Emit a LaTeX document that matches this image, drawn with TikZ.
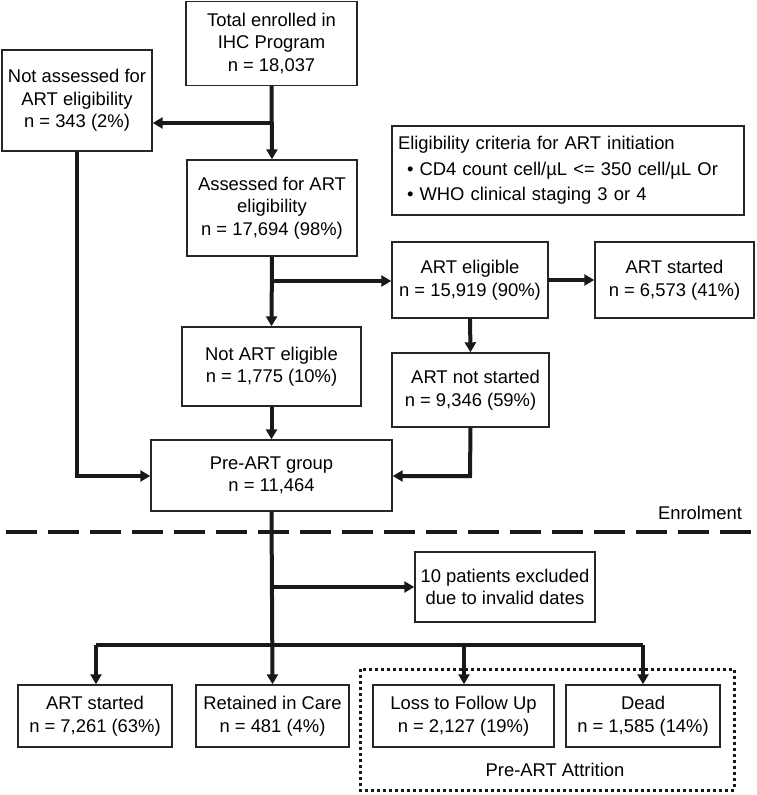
\documentclass[tikz,border=0pt]{standalone}
\usepackage{fontspec}
\setmainfont{Liberation Sans}
\usetikzlibrary{arrows.meta}
\begin{document}
\begin{tikzpicture}[x=1pt,y=-1pt,
  box/.style={draw=black!85,line width=1.4pt,rectangle,inner sep=0pt,align=center,
    font=\fontsize{18.4}{22.5}\selectfont},
  conn/.style={line width=4pt,black!90},
  arr/.style={conn,-{Triangle[width=11pt,length=10pt]}},
  lbl/.style={inner sep=0pt,font=\fontsize{18.4}{22.5}\selectfont}]
\useasboundingbox (0,0) rectangle (756,795);
% boxes
\node[box,minimum width=171pt,minimum height=84pt] (total) at (271.5,43.5) {Total enrolled in\\IHC Program\\n = 18,037};
\node[box,minimum width=150pt,minimum height=101pt] (notass) at (77,100.5) {Not assessed for\\ART eligibility\\n = 343 (2\%)};
\node[box,minimum width=170pt,minimum height=96pt] (ass) at (272,208) {Assessed for ART\\eligibility\\n = 17,694 (98\%)};
\node[box,minimum width=352pt,minimum height=89pt,align=left,text width=340pt] (crit) at (568,170.5)
  {Eligibility criteria for ART initiation\\[3pt]
   \hspace*{9pt}\textbullet\ CD4 count cell/µL <= 350 cell/µL Or\\[3pt]
   \hspace*{9pt}\textbullet\ WHO clinical staging 3 or 4};
\node[box,minimum width=156pt,minimum height=76pt] (elig) at (470,280) {ART eligible\\n = 15,919 (90\%)};
\node[box,minimum width=159pt,minimum height=76pt] (start1) at (674.5,280) {ART started\\n = 6,573 (41\%)};
\node[box,minimum width=179pt,minimum height=79pt] (notelig) at (271.5,366.5) {Not ART eligible\\n = 1,775 (10\%)};
\node[box,minimum width=157pt,minimum height=74pt] (notstart) at (470.5,390) {\hspace*{10pt}ART not started\\n = 9,346 (59\%)};
\node[box,minimum width=241pt,minimum height=71pt] (pre) at (271.5,475.5) {Pre-ART group\\n = 11,464};
\node[box,minimum width=180pt,minimum height=70pt] (excl) at (505,587) {10 patients excluded\\due to invalid dates};
\node[box,minimum width=154pt,minimum height=62pt] (start2) at (95,716) {ART started\\n = 7,261 (63\%)};
\node[box,minimum width=153pt,minimum height=62pt] (ret) at (272.5,716) {Retained in Care\\n = 481 (4\%)};
\node[box,minimum width=181pt,minimum height=62pt] (loss) at (463.5,716) {Loss to Follow Up\\n = 2,127 (19\%)};
\node[box,minimum width=154pt,minimum height=62pt] (dead) at (643,716) {Dead\\n = 1,585 (14\%)};
% dotted attrition frame
\draw[line width=3pt,dash pattern=on 3pt off 3pt,black!90] (360,669) rectangle (734,790);
\node[lbl] (attr) at (555,770) {Pre-ART Attrition};
% enrolment divider
\coordinate (dl) at (0,532);
\coordinate (dr) at (756,532);
\draw[line width=4pt,black!90,dash pattern=on 31pt off 11pt,dash phase=-6pt] (dl) -- (dr);
\node[lbl] (enrol) at (700,513) {Enrolment};
% connectors top
\draw[arr] (total.south) -- (ass.north);
\coordinate (b1) at (272,123);
\draw[arr] (b1) -- (notass.east |- b1);
\coordinate (nl) at (77,476);
\draw[arr] (notass.south) -- (nl) -- (pre.west |- nl);
\draw[arr] (ass.south) -- (notelig.north);
\coordinate (b2) at (272,281);
\draw[arr] (b2) -- (elig.west |- b2);
\draw[arr] (elig.east) -- (start1.west);
\draw[arr] (elig.south) -- (notstart.north);
\draw[arr] (notelig.south) -- (pre.north);
\coordinate (nr) at (470,476);
\draw[arr] (notstart.south) -- (nr) -- (pre.east |- nr);
% bottom tree
\draw[arr] (pre.south) -- (ret.north);
\coordinate (b3) at (272,587);
\draw[arr] (b3) -- (excl.west |- b3);
\coordinate (hL) at (96,645);
\coordinate (hR) at (643,645);
\draw[conn] (hL) -- (hR);
\draw[arr] (hL) -- (start2.north -| hL);
\draw[arr] (464,645) -- (loss.north -| 464,0);
\draw[arr] (hR) -- (dead.north -| hR);
\end{tikzpicture}
\end{document}
